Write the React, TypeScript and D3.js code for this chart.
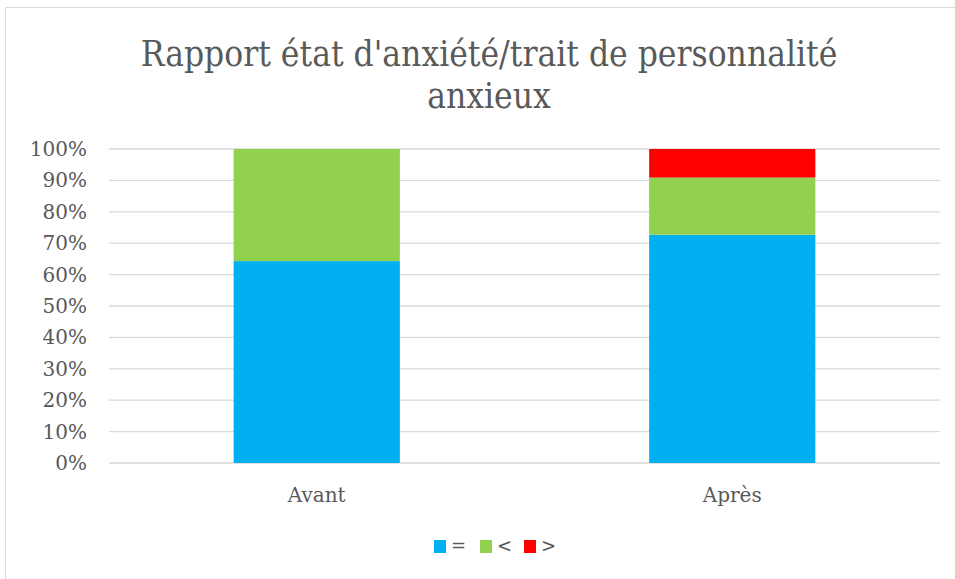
import { useEffect, useRef } from "react";
import * as d3 from "d3";

const categories = ["Avant", "Après"];
const seriesNames = ["=", "<", ">"];
const seriesColors = ["#00b0f0", "#92d050", "#ff0000"];
// share of each group, one array per series
const equalValues = [0.643, 0.727];
const lessValues = [0.357, 0.182];
const moreValues = [0, 0.091];
const yTicks = [0, 0.1, 0.2, 0.3, 0.4, 0.5, 0.6, 0.7, 0.8, 0.9, 1];
const titleLines = ["Rapport état d'anxiété/trait de personnalité", "anxieux"];

function App() {
  const svgRef = useRef<SVGSVGElement>(null);

  useEffect(() => {
    const width = 955;
    const height = 579;
    const font = "'DejaVu Serif', serif";
    const titleFont = "'DejaVu Serif Condensed', 'DejaVu Serif', serif";
    const textColor = "#595959";
    const left = 109;
    const right = 940;
    const top = 149;
    const bottom = 463;

    const svg = d3.select(svgRef.current);
    svg.selectAll("*").remove();
    svg.attr("width", width).attr("height", height);

    svg.append("rect").attr("width", width).attr("height", height).attr("fill", "#fff");

    // chart frame
    svg
      .append("path")
      .attr("d", `M5.5,${height} V7.5 H${width}`)
      .attr("fill", "none")
      .attr("stroke", "#d9d9d9")
      .attr("stroke-width", 1);

    const title = svg
      .append("text")
      .attr("text-anchor", "middle")
      .attr("font-family", titleFont)
      .attr("font-size", 35)
      .attr("fill", textColor);
    titleLines.forEach((line, i) => {
      title
        .append("tspan")
        .attr("x", 489)
        .attr("y", 66 + i * 42)
        .text(line);
    });

    const x = d3.scaleBand().domain(categories).range([left, right]).paddingInner(0).paddingOuter(0);
    const y = d3.scaleLinear().domain([0, 1]).range([bottom, top]);
    const barWidth = x.bandwidth() * 0.4;

    // gridlines
    svg
      .append("g")
      .selectAll("line")
      .data(yTicks)
      .join("line")
      .attr("x1", left)
      .attr("x2", right)
      .attr("y1", (d) => y(d))
      .attr("y2", (d) => y(d))
      .attr("stroke", "#d9d9d9")
      .attr("stroke-width", 1.3);

    svg
      .append("g")
      .selectAll("text")
      .data(yTicks)
      .join("text")
      .attr("x", 87)
      .attr("y", (d) => y(d) + 7)
      .attr("text-anchor", "end")
      .attr("font-family", font)
      .attr("font-size", 20)
      .attr("fill", textColor)
      .text((d) => d3.format(".0%")(d));

    const rows = categories.map((c, i) => ({
      category: c,
      "=": equalValues[i],
      "<": lessValues[i],
      ">": moreValues[i],
    }));
    const stacked = d3.stack<any>().keys(seriesNames)(rows);

    svg
      .append("g")
      .selectAll("g")
      .data(stacked)
      .join("g")
      .attr("fill", (_, i) => seriesColors[i])
      .selectAll("rect")
      .data((s) => s.filter((d) => d[1] - d[0] > 0))
      .join("rect")
      .attr("x", (d) => (x(d.data.category) as number) + (x.bandwidth() - barWidth) / 2)
      .attr("width", barWidth)
      .attr("y", (d) => y(d[1]))
      .attr("height", (d) => y(d[0]) - y(d[1]));

    svg
      .append("g")
      .selectAll("text")
      .data(categories)
      .join("text")
      .attr("x", (d) => (x(d) as number) + x.bandwidth() / 2)
      .attr("y", 502)
      .attr("text-anchor", "middle")
      .attr("font-family", font)
      .attr("font-size", 20)
      .attr("fill", textColor)
      .text((d) => d);

    // legend
    const legendX = [434, 480, 524];
    const legend = svg
      .append("g")
      .selectAll("g")
      .data(seriesNames)
      .join("g")
      .attr("transform", (_, i) => `translate(${legendX[i]}, 540)`);
    legend
      .append("rect")
      .attr("width", 12)
      .attr("height", 13)
      .attr("fill", (_, i) => seriesColors[i]);
    legend
      .append("text")
      .attr("x", 17)
      .attr("y", 12)
      .attr("font-family", font)
      .attr("font-size", 18)
      .attr("fill", textColor)
      .text((d) => d);
  }, []);

  return (
    <div>
      <svg ref={svgRef} style={{ position: "absolute", left: 0, top: 0 }}></svg>
    </div>
  );
}

export default App;
